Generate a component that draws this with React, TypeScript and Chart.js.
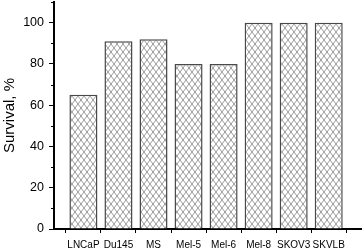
import React, { useEffect, useRef } from "react";
import { Chart, registerables } from "chart.js";

Chart.register(...registerables);

const categories = ["LNCaP", "Du145", "MS", "Mel-5", "Mel-6", "Mel-8", "SKOV3", "SKVLB"];
const survival = [65, 91, 92, 80, 80, 100, 100, 100];
const yTickLabels = [0, 20, 40, 60, 80, 100];
const yTitle = "Survival, %";

const FONT = "'Liberation Sans', Arial, sans-serif";

function makePattern(): CanvasPattern | string {
  const c = document.createElement("canvas");
  const w = 6;
  const h = 8;
  c.width = w;
  c.height = h;
  const g = c.getContext("2d");
  if (!g) return "#fff";
  g.fillStyle = "#ffffff";
  g.fillRect(0, 0, w, h);
  g.strokeStyle = "#707070";
  g.lineWidth = 0.7;
  g.beginPath();
  g.moveTo(0, 0);
  g.lineTo(w, h);
  g.moveTo(0, h);
  g.lineTo(w, 0);
  g.stroke();
  const p = g.createPattern(c, "repeat");
  return p || "#fff";
}

const minorTicks = {
  id: "minorTicks",
  afterDraw(chart: any) {
    const ys = chart.scales.y;
    const ctx = chart.ctx;
    const left = chart.chartArea.left;
    ctx.save();
    ctx.strokeStyle = "#000";
    ctx.lineWidth = 1;
    for (let v = 10; v <= 110; v += 20) {
      const py = Math.round(ys.getPixelForValue(v)) + 0.5;
      ctx.beginPath();
      ctx.moveTo(left - 3, py);
      ctx.lineTo(left, py);
      ctx.stroke();
    }
    ctx.restore();
  },
};

export default function App() {
  const ref = useRef<HTMLCanvasElement | null>(null);

  useEffect(() => {
    document.body.style.margin = "0";
    const canvas = ref.current;
    if (!canvas) return;
    const pattern = makePattern();
    const chart = new Chart(canvas, {
      type: "bar",
      data: {
        datasets: [
          {
            data: categories.map((_, i) => ({ x: i + 1, y: survival[i] })),
            backgroundColor: pattern as any,
            borderColor: "#4a4a4a",
            borderWidth: 1.5,
            categoryPercentage: 0.8,
            barPercentage: 1,
          },
        ],
      },
      options: {
        animation: false,
        responsive: false,
        maintainAspectRatio: false,
        layout: { padding: { top: 2, right: 0, bottom: 0, left: 0 } },
        plugins: {
          legend: { display: false },
          tooltip: { enabled: false },
        },
        scales: {
          x: {
            type: "linear",
            offset: false,
            min: 0.16,
            max: 8.95,
            afterBuildTicks: (scale: any) => {
              scale.ticks = categories.map((_, i) => ({ value: i + 1 }));
            },
            afterFit: (scale: any) => {
              scale.height = 20;
              scale.paddingLeft = 0;
              scale.paddingRight = 0;
            },
            ticks: {
              autoSkip: false,
              maxRotation: 0,
              minRotation: 0,
              padding: 6,
              color: "#000",
              font: { family: FONT, size: 10 },
              callback: (v: any) => categories[Number(v) - 1] ?? "",
            },
            grid: {
              display: true,
              drawOnChartArea: false,
              drawTicks: true,
              tickLength: 4,
              tickColor: "#000",
              tickWidth: 1,
            },
            border: { display: true, color: "#000", width: 2 },
          },
          y: {
            min: 0,
            max: 110,
            afterFit: (scale: any) => {
              scale.width = 54;
              scale.paddingTop = 0;
              scale.paddingBottom = 0;
            },
            ticks: {
              stepSize: 10,
              padding: 5,
              color: "#000",
              font: { family: FONT, size: 12.5 },
              callback: (v: any) => (yTickLabels.includes(Number(v)) ? String(v) : ""),
            },
            grid: {
              display: true,
              drawOnChartArea: false,
              drawTicks: true,
              tickLength: 5,
              tickWidth: 1,
              tickColor: (ctx: any) =>
                yTickLabels.includes(ctx.tick?.value) ? "#000" : "rgba(0,0,0,0)",
            },
            border: { display: true, color: "#000", width: 2 },
            title: {
              display: true,
              text: yTitle,
              color: "#000",
              font: { family: FONT, size: 15 },
              padding: { top: 1, bottom: 0 },
            },
          },
        },
      },
      plugins: [minorTicks],
    });
    return () => chart.destroy();
  }, []);

  return (
    <div style={{ width: 362, height: 249 }}>
      <canvas ref={ref} width={362} height={249} style={{ display: "block" }} />
    </div>
  );
}
